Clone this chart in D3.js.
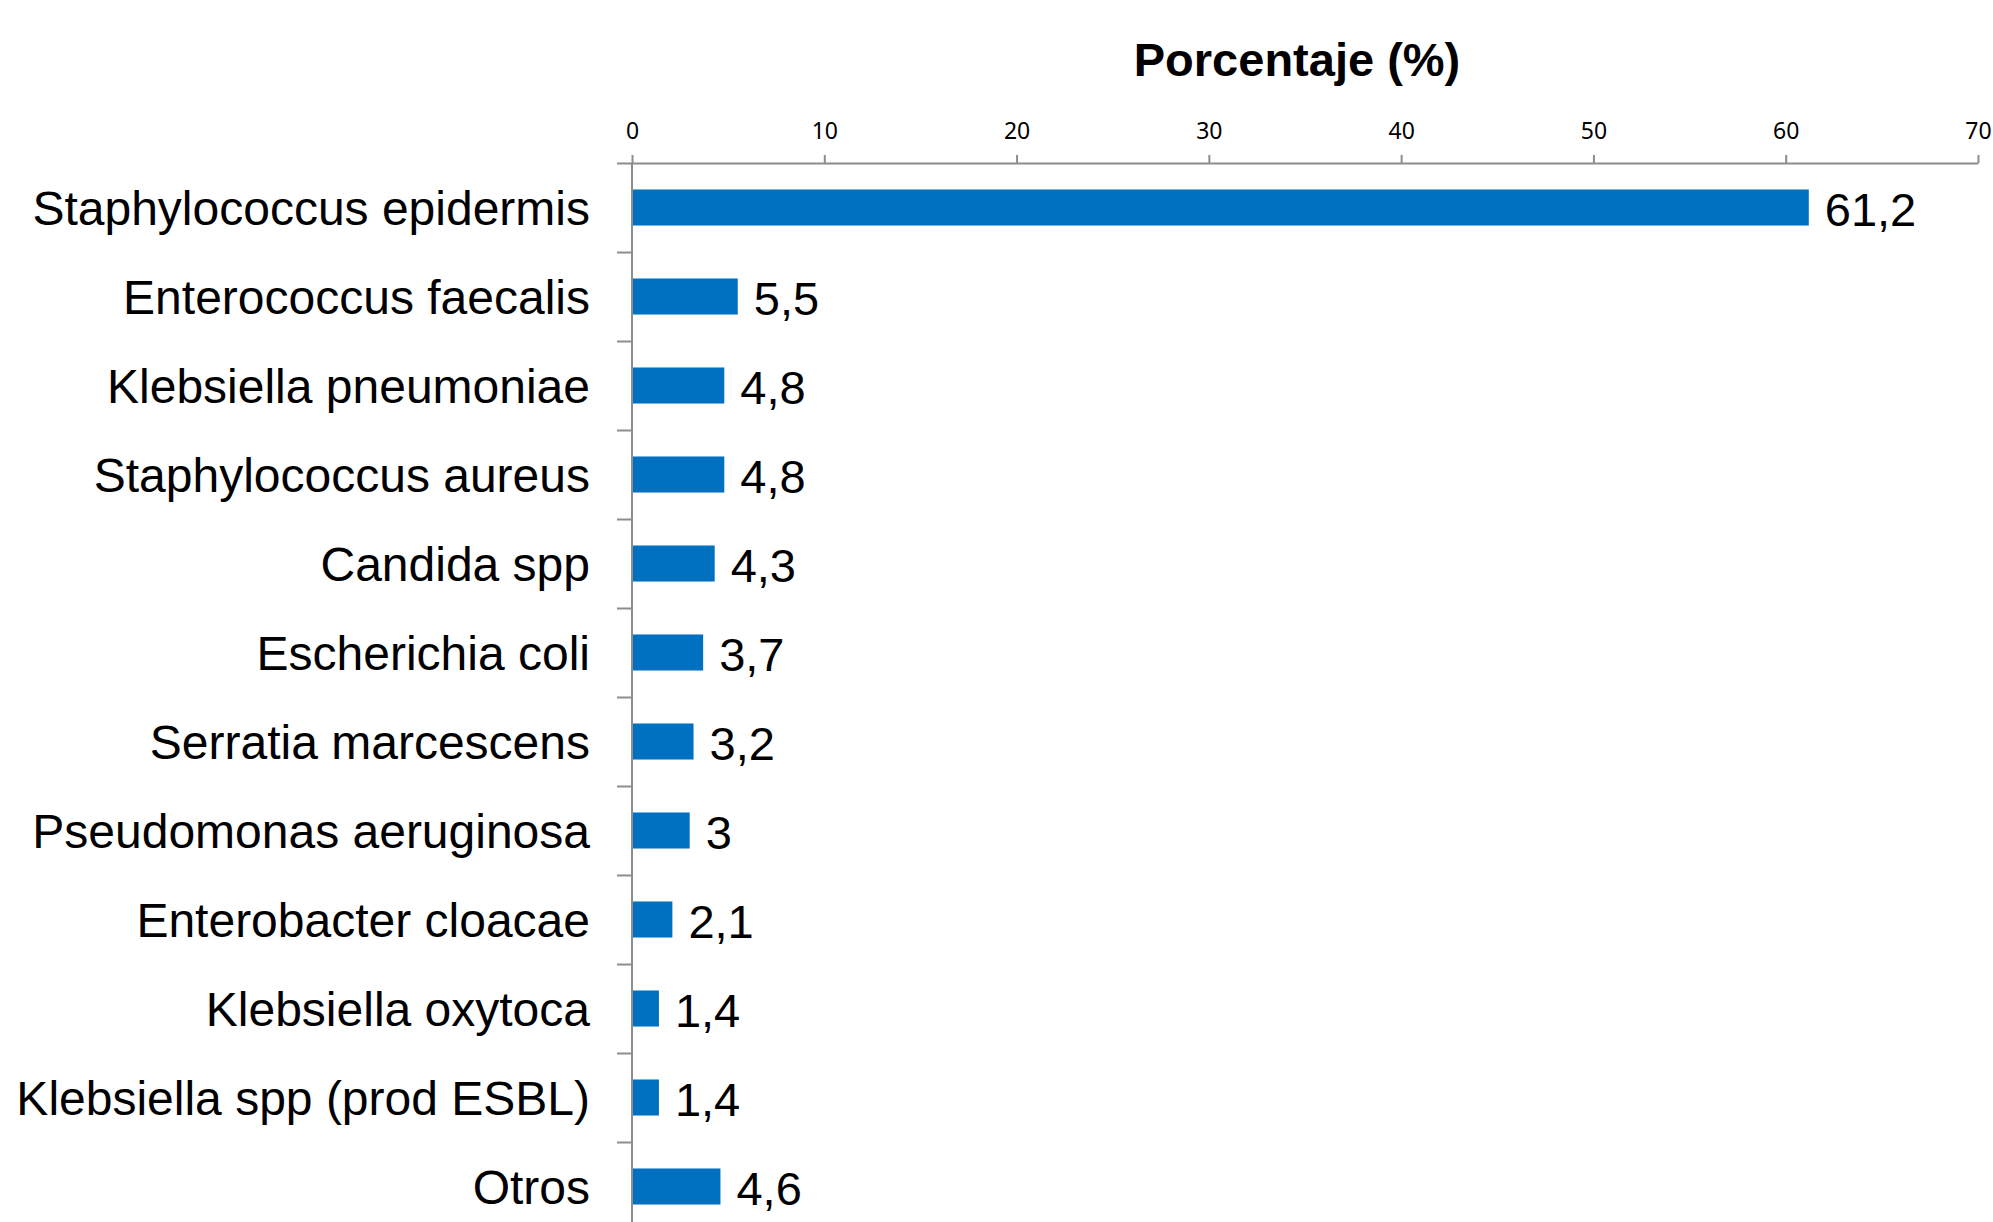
<!DOCTYPE html>
<html>
<head>
<meta charset="utf-8">
<script src="https://cdn.jsdelivr.net/npm/d3@7/dist/d3.min.js"></script>
<style>
  body { margin: 0; background: #fff; }
  .axis path, .axis line { stroke: #8c8c8c; stroke-width: 2; }
  .axis text { font-family: "Noto Sans", "Open Sans", sans-serif; font-size: 23px; fill: #000; }
</style>
</head>
<body>
<div id="chart"></div>
<script>
// data
var categories = ["Staphylococcus epidermis", "Enterococcus faecalis", "Klebsiella pneumoniae",
  "Staphylococcus aureus", "Candida spp", "Escherichia coli", "Serratia marcescens",
  "Pseudomonas aeruginosa", "Enterobacter cloacae", "Klebsiella oxytoca",
  "Klebsiella spp (prod ESBL)", "Otros"];
var values = [61.2, 5.5, 4.8, 4.8, 4.3, 3.7, 3.2, 3, 2.1, 1.4, 1.4, 4.6];
var xTicks = [0, 10, 20, 30, 40, 50, 60, 70];
var axis_title = "Porcentaje (%)";

var width = 1993, height = 1222;
var plotLeft = 632, plotRight = 1978, plotTop = 163, step = 89;
var plotBottom = plotTop + step * categories.length;

var svg = d3.select("#chart")
    .append("svg")
    .attr("width", width)
    .attr("height", height);

var x = d3.scaleLinear().domain([0, 70]).range([plotLeft, plotRight]);
var y = d3.scaleBand().domain(categories).range([plotTop, plotBottom])
    .paddingInner(0.595).paddingOuter(0.2975);

// title
svg.append("text")
    .attr("x", (plotLeft + plotRight) / 2 - 8)
    .attr("y", 76)
    .attr("text-anchor", "middle")
    .attr("font-family", "Liberation Sans, Arial, sans-serif")
    .attr("font-weight", "bold")
    .attr("font-size", 47)
    .text(axis_title);

// value axis on top
svg.append("g")
    .attr("class", "axis x-axis")
    .attr("transform", "translate(0," + plotTop + ")")
    .call(d3.axisTop(x).tickValues(xTicks).tickSizeInner(8).tickSizeOuter(0).tickPadding(16))
    .call(function(g) { g.selectAll("text").attr("font-family", null).attr("font-size", null); });

// category axis: ticks at band boundaries
var yIdx = d3.scaleLinear().domain([0, categories.length]).range([plotTop, plotBottom]);
svg.append("g")
    .attr("class", "axis y-axis")
    .attr("transform", "translate(" + plotLeft + ",0)")
    .call(d3.axisLeft(yIdx).tickValues(d3.range(categories.length + 1)).tickSize(15).tickFormat(""))
    .call(function(g) { g.select(".domain").attr("d", "M0," + plotTop + "V" + plotBottom); });

// bars
svg.selectAll(".bar")
    .data(values)
    .enter().append("rect")
    .attr("class", "bar")
    .attr("x", x(0) + 1)
    .attr("y", function(d, i) { return y(categories[i]); })
    .attr("width", function(d) { return x(d) - x(0) - 1; })
    .attr("height", y.bandwidth())
    .attr("fill", "#0070c0");

// category labels
svg.selectAll(".cat")
    .data(categories)
    .enter().append("text")
    .attr("class", "cat")
    .attr("x", plotLeft - 42)
    .attr("y", function(d) { return y(d) + y.bandwidth() / 2; })
    .attr("dy", "0.36em")
    .attr("text-anchor", "end")
    .attr("font-family", "Liberation Sans, Arial, sans-serif")
    .attr("font-size", 48)
    .text(function(d) { return d; });

// value labels
svg.selectAll(".val")
    .data(values)
    .enter().append("text")
    .attr("class", "val")
    .attr("x", function(d) { return x(d) + 16; })
    .attr("y", function(d, i) { return y(categories[i]) + y.bandwidth() / 2; })
    .attr("dy", "0.4em")
    .attr("font-family", "Liberation Sans, Arial, sans-serif")
    .attr("font-size", 47)
    .text(function(d) { return String(d).replace(".", ","); });
</script>
</body>
</html>
